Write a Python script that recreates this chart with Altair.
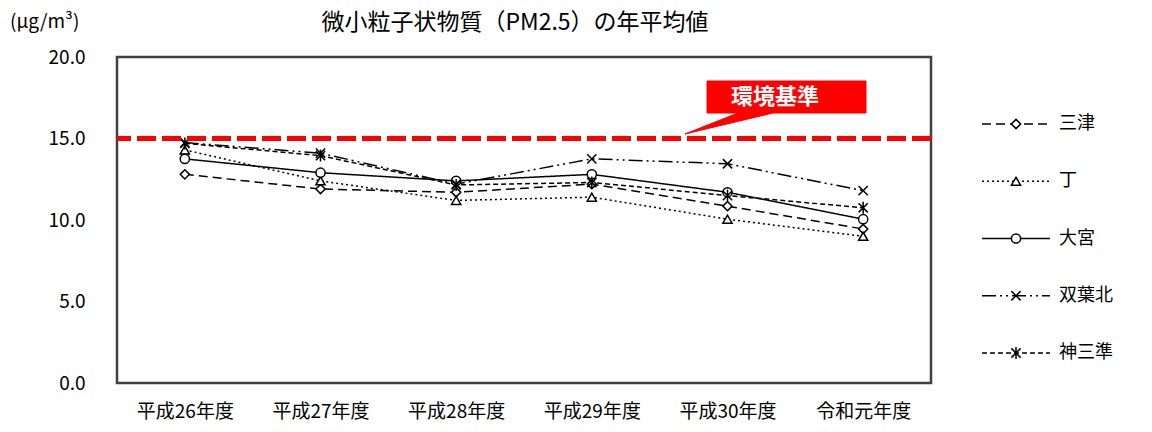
import altair as alt
import pandas as pd

years = ["平成26年度", "平成27年度", "平成28年度", "平成29年度", "平成30年度", "令和元年度"]
stations = ["三津", "丁", "大宮", "双葉北", "神三準"]
s1 = [12.8, 11.9, 11.7, 12.2, 10.85, 9.45]
s2 = [14.3, 12.4, 11.2, 11.4, 10.05, 9.0]
s3 = [13.75, 12.9, 12.4, 12.8, 11.7, 10.05]
s4 = [14.75, 14.1, 12.2, 13.75, 13.45, 11.8]
s5 = [14.7, 13.95, 12.15, 12.3, 11.5, 10.75]
standard = 15.0
title_text = "微小粒子状物質（PM2.5）の年平均値"
unit_text = "(μg/m³)"
std_label = "環境基準"

series = [s1, s2, s3, s4, s5]
rows = []
for name, vals in zip(stations, series):
    for yr, v in zip(years, vals):
        rows.append({"year": yr, "station": name, "value": v})
df = pd.DataFrame(rows)
leg_df = pd.DataFrame({"station": stations})

FONT = "Noto Sans CJK JP"
dash_range = [[9, 5], [2, 3], [1, 0], [14, 4, 2, 4, 2, 4], [5, 3]]
shape_range = [
    "diamond",
    "triangle-up",
    "circle",
    "M-1,-1L1,1M-1,1L1,-1",
    "M-1,-1L1,1M-1,1L1,-1M0,-1.3L0,1.3",
]
dash_scale = alt.Scale(domain=stations, range=dash_range)
shape_scale = alt.Scale(domain=stations, range=shape_range)

x_enc = alt.X(
    "year:N",
    sort=years,
    scale=alt.Scale(type="point", padding=0.5),
    axis=alt.Axis(
        title=None, labelAngle=0, ticks=False, domain=False, labelPadding=19,
        labelFontSize=19, labelFont=FONT, labelColor="black",
    ),
)
y_scale = alt.Scale(domain=[0, 20])
y_enc = alt.Y(
    "value:Q",
    scale=y_scale,
    axis=alt.Axis(
        values=[0, 5, 10, 15, 20], format=".1f", ticks=False, domain=False, grid=False,
        labelPadding=32, labelFontSize=19, labelFont=FONT, labelColor="black",
        title=None,
    ),
)

base = alt.Chart(df)
lines = base.mark_line(color="black", strokeWidth=1.5).encode(
    x=x_enc, y=y_enc,
    strokeDash=alt.StrokeDash("station:N", scale=dash_scale, legend=None),
    detail="station:N",
)
pts = base.mark_point(filled=True, fill="white", stroke="black", strokeWidth=1.5,
                      size=85, opacity=1).encode(
    x=x_enc, y=alt.Y("value:Q", scale=y_scale),
    shape=alt.Shape("station:N", scale=shape_scale, legend=None),
)
std_rule = alt.Chart(pd.DataFrame({"v": [standard]})).mark_rule(
    color="#ff0000", strokeWidth=5, strokeDash=[19, 6]
).encode(y=alt.Y("v:Q", scale=y_scale))

callout = alt.Chart(pd.DataFrame({"t": [std_label]})).mark_point(
    shape="M-79,-16L80,-16L80,16L-13,16L-101,37L-48,16L-79,16Z",
    size=4, filled=True, fill="#ff0000", stroke="#ff0000", strokeWidth=1, opacity=1,
).encode(x=alt.value(669), y=alt.value(40))
callout_text = alt.Chart(pd.DataFrame({"t": [std_label]})).mark_text(
    font=FONT, fontSize=22, fontWeight="bold", color="white", align="center", baseline="middle",
).encode(x=alt.value(658), y=alt.value(40), text="t:N")

title_mark = alt.Chart(pd.DataFrame({"t": [title_text]})).mark_text(
    font=FONT, fontSize=23, color="black", align="center", baseline="middle",
).encode(x=alt.value(398), y=alt.value(-34), text="t:N")
unit_mark = alt.Chart(pd.DataFrame({"t": [unit_text]})).mark_text(
    font=FONT, fontSize=19, color="black", align="left", baseline="middle",
).encode(x=alt.value(-107), y=alt.value(-35), text="t:N")

main = alt.layer(lines, pts, std_rule, callout, callout_text, title_mark, unit_mark)

leg_y = alt.Y("station:N",
              scale=alt.Scale(type="point", domain=stations, range=[67, 296], padding=0),
              axis=None)
leg_lines = alt.Chart(leg_df).mark_rule(color="black", strokeWidth=1.5).encode(
    x=alt.value(865), x2=alt.value(933), y=leg_y,
    strokeDash=alt.StrokeDash("station:N", scale=dash_scale, legend=None),
)
leg_pts = alt.Chart(leg_df).mark_point(filled=True, fill="white", stroke="black", strokeWidth=1.5,
                                        size=85, opacity=1).encode(
    x=alt.value(899), y=leg_y,
    shape=alt.Shape("station:N", scale=shape_scale, legend=None),
)
leg_text = alt.Chart(leg_df).mark_text(font=FONT, fontSize=18, align="left", baseline="middle",
                                       color="black").encode(
    x=alt.value(942), y=leg_y, text="station:N",
)
legend = alt.layer(leg_lines, leg_pts, leg_text)

chart = alt.layer(main, legend).resolve_scale(y="independent").properties(
    width=814, height=326,
    padding={"left": 10, "top": 12, "right": 5, "bottom": 5},
).configure_view(stroke="#404040", strokeWidth=2.5)

chart.save("out.html", embed_options={"renderer": "svg", "actions": False})
